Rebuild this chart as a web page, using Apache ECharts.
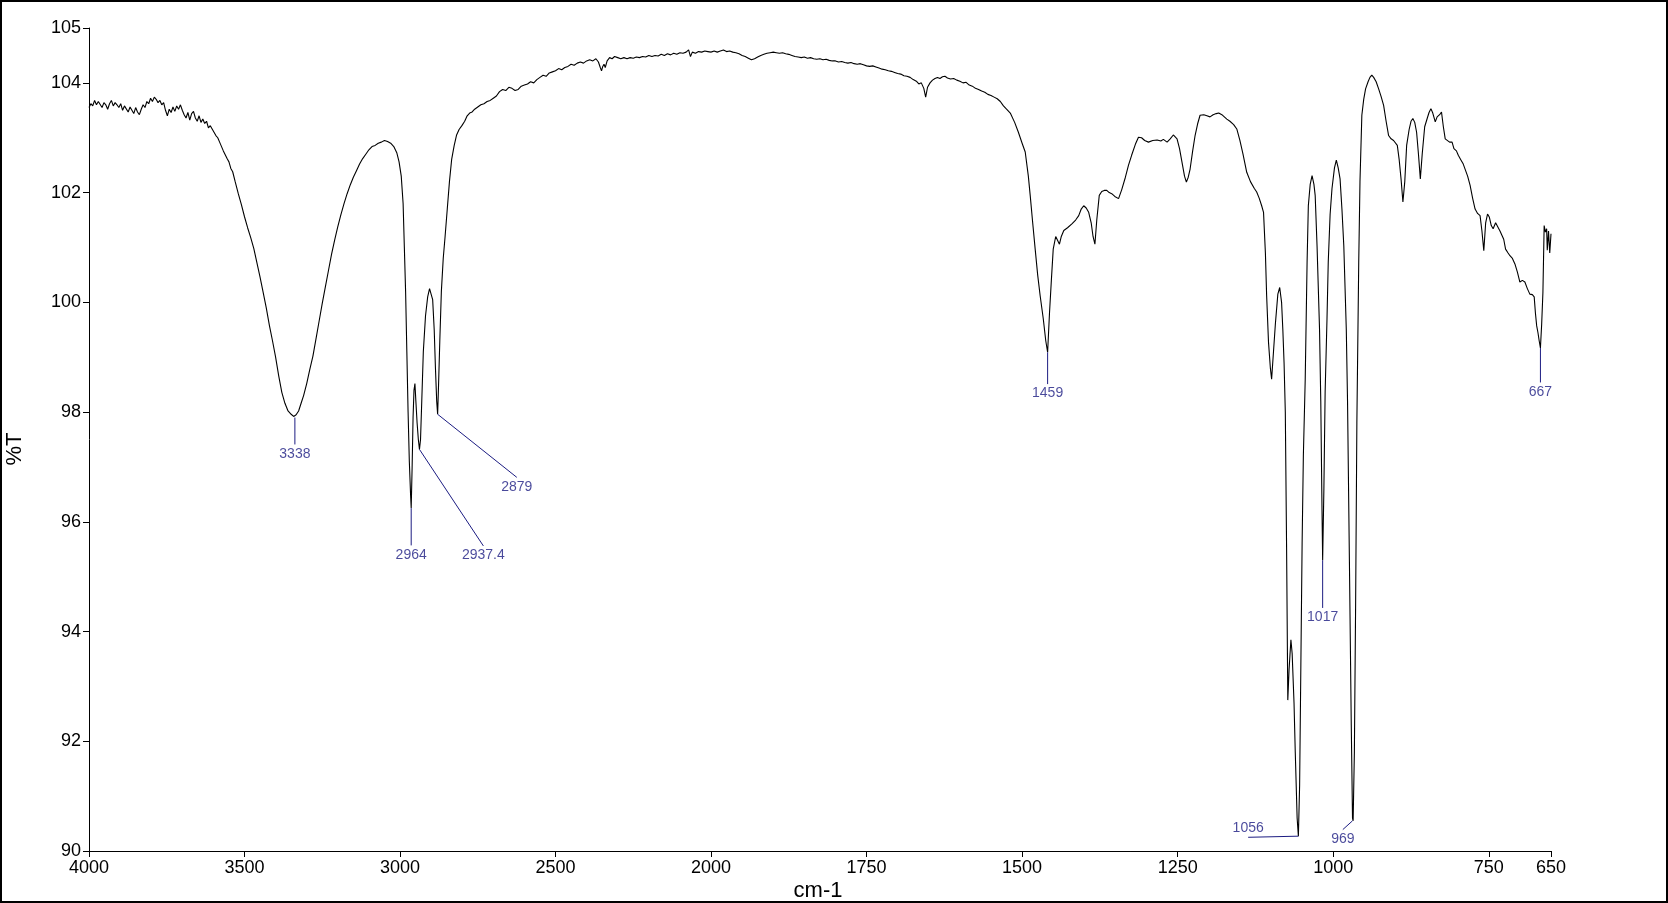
<!DOCTYPE html>
<html><head><meta charset="utf-8">
<script src="https://cdn.jsdelivr.net/npm/echarts@6/dist/echarts.min.js"></script>
<style>html,body{margin:0;padding:0;background:#fff}#c{width:1668px;height:903px}</style>
</head><body><div id="c"></div>
<script>
// Spectrum, 4000-2000 cm-1 (compressed scale part): [wavenumber, %T]
const spectrumHigh = [
[4000,103.55],[3994,103.62],[3988,103.58],[3982,103.68],[3976,103.6],[3970,103.66],[3964,103.63],[3958,103.55],
[3952,103.64],[3946,103.6],[3940,103.52],[3934,103.62],[3928,103.68],[3922,103.58],[3916,103.64],[3910,103.6],
[3904,103.55],[3898,103.62],[3892,103.5],[3886,103.58],[3880,103.56],[3874,103.47],[3868,103.56],[3862,103.5],
[3856,103.44],[3850,103.55],[3844,103.47],[3838,103.42],[3832,103.52],[3826,103.6],[3820,103.55],[3814,103.66],
[3808,103.62],[3802,103.72],[3796,103.66],[3790,103.74],[3784,103.7],[3778,103.64],[3772,103.68],[3766,103.6],
[3760,103.64],[3754,103.5],[3748,103.4],[3742,103.52],[3736,103.46],[3730,103.56],[3724,103.48],[3718,103.58],
[3712,103.52],[3706,103.6],[3700,103.5],[3694,103.42],[3688,103.36],[3682,103.46],[3676,103.32],[3670,103.44],
[3664,103.48],[3658,103.36],[3652,103.3],[3646,103.4],[3640,103.28],[3634,103.34],[3628,103.26],[3622,103.3],
[3616,103.18],[3610,103.22],[3604,103.16],[3598,103.1],[3592,103.04],[3586,103.0],[3580,102.92],[3574,102.9],
[3568,102.76],[3562,102.74],[3556,102.62],[3550,102.56],[3544,102.44],[3538,102.38],[3530,102.2],[3520,101.98],
[3510,101.78],[3500,101.56],[3490,101.36],[3480,101.18],[3470,100.98],[3460,100.72],[3450,100.46],[3440,100.18],
[3430,99.9],[3420,99.58],[3410,99.3],[3400,99.0],[3390,98.66],[3380,98.36],[3370,98.16],[3360,98.02],
[3350,97.96],[3342,97.92],[3338,97.9],[3334,97.95],[3326,98.02],[3318,98.16],[3310,98.3],[3300,98.52],
[3290,98.78],[3280,99.02],[3270,99.34],[3260,99.66],[3250,99.98],[3240,100.28],[3230,100.58],[3220,100.88],
[3210,101.14],[3200,101.38],[3190,101.6],[3180,101.8],[3170,101.98],[3160,102.14],[3150,102.28],[3140,102.4],
[3130,102.52],[3120,102.62],[3110,102.7],[3100,102.78],[3090,102.84],[3080,102.86],[3070,102.9],[3060,102.92],
[3050,102.95],[3040,102.93],[3030,102.9],[3020,102.84],[3010,102.72],[3003,102.56],[2996,102.3],[2990,101.8],
[2986,101.0],[2982,100.2],[2978,99.1],[2974,98.0],[2970,97.1],[2966,96.5],[2964,96.25],[2961,97.0],
[2958,97.9],[2955,98.4],[2952,98.52],[2949,98.2],[2945,97.8],[2941,97.5],[2937.4,97.32],[2934,97.5],
[2930,98.2],[2925,99.1],[2918,99.75],[2911,100.1],[2905,100.25],[2900,100.27],[2895,100.05],[2890,99.5],
[2886,98.8],[2882,98.2],[2879,97.96],[2876,98.5],[2872,99.3],[2867,100.2],[2861,100.8],[2855,101.2],
[2848,101.7],[2841,102.2],[2834,102.6],[2826,102.85],[2818,103.05],[2810,103.15],[2801,103.22],[2792,103.3],
[2784,103.4],[2776,103.45],[2768,103.47],[2760,103.52],[2750,103.56],[2740,103.6],[2730,103.62],[2720,103.66],
[2710,103.68],[2700,103.72],[2690,103.76],[2680,103.84],[2670,103.88],[2660,103.86],[2650,103.92],[2640,103.9],
[2630,103.86],[2620,103.88],[2610,103.94],[2600,103.96],[2590,103.98],[2580,104.02],[2570,104.0],[2560,104.06],
[2550,104.1],[2540,104.14],[2530,104.12],[2520,104.18],[2510,104.2],[2500,104.22],[2490,104.26],[2480,104.24],
[2470,104.28],[2460,104.3],[2450,104.34],[2440,104.32],[2430,104.36],[2420,104.38],[2410,104.36],[2400,104.4],
[2390,104.42],[2380,104.4],[2370,104.44],[2362,104.38],[2356,104.28],[2352,104.22],[2348,104.3],[2344,104.34],
[2340,104.28],[2334,104.4],[2326,104.46],[2318,104.44],[2310,104.48],[2300,104.46],[2290,104.44],[2280,104.46],
[2270,104.44],[2260,104.46],[2250,104.45],[2240,104.47],[2230,104.46],[2220,104.48],[2210,104.47],[2200,104.5],
[2190,104.48],[2180,104.5],[2170,104.49],[2160,104.52],[2150,104.5],[2140,104.53],[2130,104.51],[2120,104.54],
[2110,104.52],[2100,104.55],[2090,104.54],[2080,104.56],[2072,104.6],[2066,104.48],[2060,104.56],[2050,104.54],
[2040,104.57],[2030,104.56],[2020,104.58],[2010,104.57],[2000,104.56]
];
// Spectrum, 2000-650 cm-1 (expanded scale part): [wavenumber, %T]
const spectrumLow = [
[2000,104.56],[1995,104.58],[1990,104.56],[1985,104.58],[1980,104.6],[1975,104.57],[1970,104.58],[1965,104.56],
[1960,104.55],[1955,104.53],[1950,104.5],[1945,104.48],[1940,104.45],[1935,104.42],[1930,104.44],[1925,104.47],
[1920,104.5],[1915,104.52],[1910,104.54],[1905,104.55],[1900,104.56],[1895,104.55],[1890,104.54],[1885,104.55],
[1880,104.53],[1875,104.52],[1870,104.5],[1865,104.48],[1860,104.47],[1855,104.46],[1850,104.47],[1845,104.45],
[1840,104.46],[1835,104.44],[1830,104.43],[1825,104.44],[1820,104.42],[1815,104.43],[1810,104.41],[1805,104.4],
[1800,104.4],[1795,104.38],[1790,104.39],[1785,104.37],[1780,104.36],[1775,104.37],[1770,104.35],[1765,104.34],
[1760,104.35],[1755,104.33],[1750,104.31],[1745,104.3],[1740,104.31],[1735,104.29],[1730,104.27],[1725,104.25],
[1720,104.24],[1715,104.22],[1710,104.21],[1705,104.19],[1700,104.17],[1695,104.16],[1690,104.13],[1685,104.12],
[1680,104.1],[1675,104.06],[1670,104.03],[1666,103.98],[1662,104.0],[1658,103.9],[1655,103.74],[1652,103.92],
[1648,104.0],[1644,104.05],[1640,104.08],[1636,104.1],[1632,104.08],[1628,104.11],[1624,104.12],[1620,104.09],
[1615,104.07],[1610,104.08],[1605,104.05],[1600,104.03],[1595,104.0],[1590,104.01],[1585,103.96],[1580,103.94],
[1575,103.9],[1570,103.88],[1565,103.85],[1560,103.83],[1555,103.79],[1550,103.77],[1545,103.74],[1540,103.71],
[1535,103.66],[1530,103.58],[1525,103.52],[1519,103.45],[1512,103.28],[1506,103.1],[1500,102.9],[1495,102.74],
[1490,102.3],[1487,101.95],[1483,101.45],[1479,100.97],[1475,100.5],[1471,100.12],[1466,99.7],[1462,99.3],
[1459,99.09],[1456,99.8],[1453,100.4],[1450,100.97],[1446,101.2],[1443,101.22],[1440,101.06],[1437,101.2],
[1433,101.31],[1427,101.36],[1420,101.43],[1414,101.5],[1409,101.58],[1405,101.7],[1401,101.76],[1397,101.72],
[1393,101.64],[1389,101.45],[1386,101.2],[1383,101.06],[1380,101.5],[1376,101.95],[1372,102.02],[1368,102.04],
[1364,102.04],[1360,102.0],[1356,101.98],[1351,101.93],[1345,101.89],[1340,102.05],[1334,102.28],[1329,102.5],
[1324,102.68],[1318,102.88],[1313,103.01],[1308,103.0],[1303,102.95],[1297,102.92],[1290,102.95],[1283,102.96],
[1277,102.94],[1273,102.97],[1267,102.92],[1262,102.98],[1257,103.05],[1251,102.98],[1247,102.8],[1243,102.55],
[1239,102.3],[1236,102.19],[1233,102.28],[1230,102.43],[1226,102.75],[1222,103.04],[1218,103.25],[1214,103.41],
[1208,103.42],[1203,103.4],[1198,103.38],[1193,103.42],[1188,103.44],[1184,103.45],[1179,103.42],[1175,103.38],
[1171,103.34],[1166,103.3],[1160,103.24],[1155,103.16],[1150,102.95],[1145,102.7],[1139,102.37],[1133,102.2],
[1127,102.08],[1123,102.01],[1119,101.9],[1115,101.76],[1112,101.64],[1109,100.9],[1107,100.12],[1104,99.27],
[1101,98.8],[1099,98.6],[1096,99.1],[1093,99.6],[1089,100.15],[1086,100.27],[1083,100.0],[1081,99.51],
[1079,98.9],[1077,98.0],[1075,95.6],[1073,92.75],[1071,93.3],[1068,93.85],[1066,93.6],[1063,92.7],
[1061,91.8],[1058,90.6],[1056,90.27],[1054,91.2],[1052,93.4],[1050,95.6],[1048,97.2],[1045,98.6],
[1042,100.73],[1040,101.76],[1037,102.15],[1034,102.31],[1031,102.15],[1029,101.95],[1026,101.03],[1022,99.51],
[1020,98.2],[1018,96.2],[1017,95.3],[1015,96.6],[1013,98.36],[1010,99.7],[1008,100.73],[1005,101.6],
[1002,102.07],[998,102.45],[995,102.59],[992,102.45],[989,102.25],[986,101.7],[983,101.03],[979,99.51],
[977,98.2],[974,95.3],[971,92.3],[969,90.6],[968,90.55],[966,91.8],[964,94.5],[962,97.8],
[959,100.73],[957,102.2],[954,103.41],[951,103.7],[948,103.89],[944,104.02],[941,104.1],[938,104.14],
[935,104.1],[931,104.02],[927,103.89],[923,103.75],[919,103.59],[915,103.3],[911,103.04],[907,102.98],
[903,102.95],[900,102.92],[897,102.86],[894,102.6],[891,102.25],[888,101.83],[885,102.2],[882,102.86],
[878,103.15],[875,103.3],[872,103.35],[869,103.28],[866,103.1],[863,102.7],[860,102.25],[857,102.7],
[853,103.2],[849,103.35],[846,103.46],[843,103.53],[840,103.45],[836,103.29],[833,103.38],[829,103.42],
[826,103.47],[823,103.2],[820,102.98],[817,103.0],[813,102.92],[809,102.92],[806,102.8],[802,102.76],
[799,102.68],[795,102.6],[791,102.52],[788,102.49],[784,102.3],[780,102.13],[776,101.9],[772,101.7],
[768,101.62],[764,101.58],[761,101.3],[758,100.94],[755,101.45],[752,101.61],[749,101.55],[746,101.4],
[743,101.34],[739,101.45],[736,101.43],[732,101.3],[729,101.28],[726,101.15],[723,100.97],[719,100.9],
[716,100.85],[712,100.8],[708,100.7],[704,100.55],[700,100.37],[696,100.4],[692,100.37],[688,100.25],
[684,100.15],[680,100.14],[677,100.1],[675,99.8],[673,99.57],[671,99.45],[669,99.3],[667,99.17],
[665,99.6],[663,100.18],[661,101.4],[659,101.28],[657,101.34],[656,100.95],[654,101.3],[652,100.9],[650,101.25]
];
// Axis ticks
const xTicksLeft = [4000, 3500, 3000, 2500, 2000];
const xTicksRight = [1750, 1500, 1250, 1000, 750, 650];
const yTicks = [90, 92, 94, 96, 98, 100, 102, 104, 105];
// Peak annotations
const peakLabels = ['3338', '2964', '2937.4', '2879', '1459', '1056', '1017', '969', '667'];
const peakWavenumbers = [3338, 2964, 2937.4, 2879, 1459, 1056, 1017, 969, 667];
const peakValues = [97.9, 96.25, 97.32, 97.96, 99.09, 90.27, 95.3, 90.55, 99.17];

// Layout of the leader lines (end point of each leader, in axis units) and label side
const leaderEnds = [[3338, 97.41], [2964, 95.57], [2731.9, 95.56], [2624.4, 96.81], [1459, 98.51],
                    [1136.7, 90.25], [1017, 94.43], [984.6, 90.39], [667, 98.54]];
const labelSide = ['bottom', 'bottom', 'bottom', 'bottom', 'bottom', 'top', 'bottom', 'bottom', 'bottom'];

const NAVY = '#1c1c82';
const FONT = "'Liberation Sans', Arial, sans-serif";
const chart = echarts.init(document.getElementById('c'), null, {renderer: 'canvas'});

const axisCommon = {
  type: 'value',
  axisLine: {show: true, lineStyle: {color: '#000', width: 1}},
  splitLine: {show: false},
};
const plain = v => String(v);

const series = [
  {type: 'line', xAxisIndex: 0, yAxisIndex: 0, data: spectrumHigh, showSymbol: false, symbol: 'none',
   lineStyle: {color: '#000', width: 1.1}, animation: false, z: 2},
  {type: 'line', xAxisIndex: 1, yAxisIndex: 1, data: spectrumLow, showSymbol: false, symbol: 'none',
   lineStyle: {color: '#000', width: 1.1}, animation: false, z: 2}
];
const labelPts = [[], []];
peakWavenumbers.forEach((wn, i) => {
  const g = wn >= 2000 ? 0 : 1;
  series.push({type: 'line', xAxisIndex: g, yAxisIndex: g, symbol: 'none', animation: false, z: 3,
    lineStyle: {color: NAVY, width: 1},
    data: [[wn, peakValues[i]], leaderEnds[i]]});
  labelPts[g].push({value: leaderEnds[i], name: peakLabels[i],
    label: {position: labelSide[i]}});
});
[0, 1].forEach(g => {
  series.push({type: 'scatter', xAxisIndex: g, yAxisIndex: g, symbolSize: 1, animation: false, z: 4,
    itemStyle: {color: 'rgba(0,0,0,0)'}, silent: true,
    label: {show: true, formatter: p => p.name, color: NAVY, fontSize: 14, fontFamily: FONT, distance: 2},
    data: labelPts[g]});
});

chart.setOption({
  backgroundColor: '#fff',
  animation: false,
  grid: [
    {left: 89, top: 28, width: 622, height: 823},
    {left: 711, top: 28, width: 840, height: 823}
  ],
  xAxis: [
    Object.assign({}, axisCommon, {gridIndex: 0, min: 2000, max: 4000, inverse: true,
      axisTick: {show: true, length: 6, inside: false, lineStyle: {color: '#000'}, customValues: xTicksLeft},
      axisLabel: {color: '#000', fontSize: 18, fontFamily: FONT, margin: 8, customValues: xTicksLeft, formatter: plain}}),
    Object.assign({}, axisCommon, {gridIndex: 1, min: 650, max: 2000, inverse: true,
      axisTick: {show: true, length: 6, inside: false, lineStyle: {color: '#000'}, customValues: xTicksRight},
      axisLabel: {color: '#000', fontSize: 18, fontFamily: FONT, margin: 8, customValues: xTicksRight, formatter: plain}})
  ],
  yAxis: [
    Object.assign({}, axisCommon, {gridIndex: 0, min: 90, max: 105,
      axisTick: {show: true, length: 6, inside: false, lineStyle: {color: '#000'}, customValues: yTicks},
      axisLabel: {color: '#000', fontSize: 18, fontFamily: FONT, margin: 8, customValues: yTicks, formatter: plain}}),
    {type: 'value', gridIndex: 1, min: 90, max: 105, show: false}
  ],
  graphic: [
    {type: 'rect', shape: {x: 1, y: 1, width: 1666, height: 901}, style: {fill: 'none', stroke: '#000', lineWidth: 2}, silent: true},
    {type: 'text', x: 818, y: 891, style: {text: 'cm-1', font: "22px 'Liberation Sans', Arial, sans-serif", fill: '#000', textAlign: 'center', textVerticalAlign: 'middle'}},
    {type: 'text', x: 15, y: 449, rotation: Math.PI / 2, style: {text: '%T', font: "22px 'Liberation Sans', Arial, sans-serif", fill: '#000', textAlign: 'center', textVerticalAlign: 'middle'}}
  ],
  series: series
});
</script>
</body></html>
